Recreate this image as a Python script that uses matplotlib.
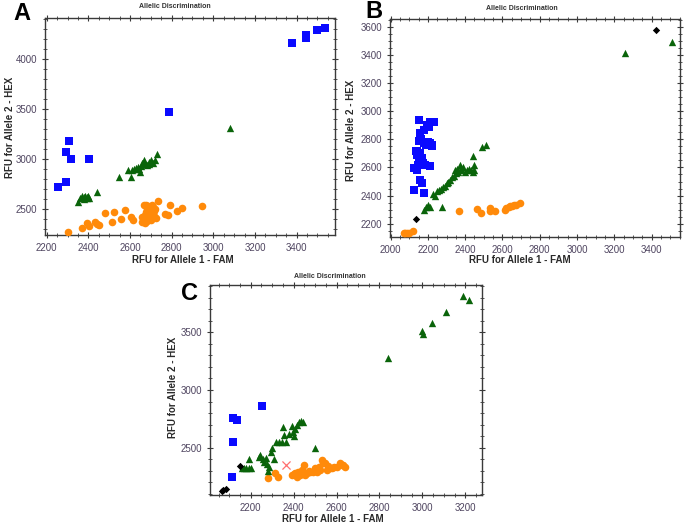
"""Allelic discrimination scatter plots, three panels (A, B, C)."""

import matplotlib
matplotlib.use("Agg")
import matplotlib.pyplot as plt
from matplotlib.ticker import MultipleLocator

plt.rcParams["font.family"] = ["Liberation Sans", "DejaVu Sans"]

BLUE = "#0A0AFF"
GREEN = "#0A640A"
ORANGE = "#FF8A0A"
BLACK = "#000000"
RED = "#FF6F6F"
TICK_TEXT = "#4f4560"
SPINE = "#3a3a3a"

# ---- Panel A ----
a_blue_x = [2256, 2291, 2291, 2307, 2317, 2405, 2789, 3379, 3443, 3443, 3496, 3535]
a_blue_y = [2713, 2770, 3067, 3180, 3000, 3000, 3467, 4155, 4210, 4243, 4287, 4307]

a_green_x = [2350, 2360, 2370, 2378, 2385, 2392, 2398, 2405, 2380, 2395, 2440,
             2547, 2589, 2603, 2610, 2620, 2630, 2640, 2645, 2655, 2660, 2665,
             2670, 2680, 2690, 2700, 2710, 2720, 2730, 2650, 2690, 2700, 3078]
a_green_y = [2570, 2610, 2625, 2620, 2630, 2615, 2625, 2610, 2600, 2605, 2670,
             2820, 2887, 2820, 2890, 2900, 2910, 2920, 2900, 2930, 2960, 2985,
             2950, 2940, 2970, 2990, 2960, 2990, 3050, 2870, 2950, 2970, 3305]

a_orange_x = [2304, 2368, 2392, 2405, 2432, 2440, 2453, 2480, 2512, 2525, 2576,
              2557, 2605, 2616, 2656, 2675, 2733, 2768, 2784, 2792, 2824, 2848,
              2944, 2660, 2670, 2675, 2680, 2685, 2690, 2695, 2700, 2705, 2710,
              2715, 2720, 2725, 2680, 2670, 2700, 2690, 2710, 2665, 2700, 2715]
a_orange_y = [2263, 2303, 2360, 2327, 2370, 2343, 2333, 2453, 2370, 2463, 2487,
              2393, 2420, 2387, 2363, 2537, 2577, 2447, 2440, 2533, 2480, 2503,
              2530, 2420, 2440, 2470, 2500, 2530, 2480, 2450, 2510, 2540, 2470,
              2430, 2500, 2410, 2380, 2360, 2390, 2420, 2520, 2540, 2460, 2480]

# ---- Panel B ----
b_blue_x = [2151, 2214, 2232, 2196, 2178, 2160, 2151, 2178, 2214, 2223, 2134,
            2143, 2170, 2125, 2143, 2187, 2214, 2160, 2170, 2125, 2178, 2140,
            2160, 2150, 2165, 2190, 2200, 2145, 2175, 2205, 2222]
b_blue_y = [2940, 2921, 2921, 2905, 2869, 2846, 2786, 2774, 2774, 2762, 2715,
            2691, 2668, 2596, 2584, 2620, 2608, 2513, 2490, 2442, 2418, 2720,
            2700, 2650, 2800, 2760, 2780, 2620, 2630, 2890, 2750]

b_green_x = [2180, 2190, 2200, 2210, 2275, 2230, 2240, 2250, 2260, 2270, 2280,
             2290, 2300, 2310, 2320, 2330, 2340, 2350, 2360, 2370, 2380, 2390,
             2345, 2355, 2375, 2400, 2410, 2420, 2430, 2440, 2450, 2440, 2450,
             2490, 2510, 3255, 3510]
b_green_y = [2300, 2320, 2330, 2320, 2320, 2410, 2400, 2430, 2440, 2450, 2460,
             2470, 2490, 2500, 2510, 2530, 2540, 2560, 2570, 2580, 2590, 2600,
             2580, 2590, 2620, 2570, 2580, 2590, 2580, 2570, 2580, 2680, 2620,
             2745, 2760, 3415, 3495]

b_orange_x = [2070, 2080, 2090, 2100, 2120, 2366, 2464, 2487, 2532, 2535, 2562,
              2612, 2633, 2651, 2674, 2696, 2620, 2640, 2660]
b_orange_y = [2130, 2130, 2135, 2135, 2150, 2288, 2304, 2276, 2311, 2293, 2293,
              2300, 2319, 2328, 2335, 2347, 2310, 2325, 2330]

b_black_x = [2134, 3425]
b_black_y = [2233, 3580]

# ---- Panel C ----
c_blue_x = [2119, 2137, 2116, 2251, 2111]
c_blue_y = [2755, 2740, 2552, 2861, 2248]

c_green_x = [2160, 2170, 2180, 2190, 2200, 2190, 2240, 2245, 2255, 2260, 2270,
             2275, 2280, 2285, 2295, 2300, 2310, 2320, 2330, 2345, 2350, 2355,
             2365, 2380, 2390, 2395, 2400, 2405, 2415, 2425, 2435, 2445, 2500,
             2842, 2998, 3005, 3044, 3111, 3189, 3216]
c_green_y = [2320, 2320, 2320, 2320, 2320, 2400, 2420, 2440, 2400, 2380, 2410,
             2360, 2300, 2330, 2460, 2500, 2400, 2550, 2550, 2550, 2680, 2610,
             2550, 2620, 2690, 2640, 2600, 2660, 2700, 2720, 2730, 2720, 2494,
             3275, 3512, 3486, 3584, 3679, 3815, 3780]

c_orange_x = [2282, 2313, 2329, 2391, 2407, 2422, 2430, 2438, 2446, 2461, 2477,
              2500, 2508, 2523, 2531, 2547, 2554, 2570, 2586, 2617, 2632, 2640,
              2400, 2415, 2440, 2455, 2470, 2490, 2510, 2520, 2535, 2560, 2580,
              2600, 2625]
c_orange_y = [2234, 2278, 2249, 2263, 2278, 2292, 2263, 2306, 2350, 2278, 2292,
              2321, 2292, 2306, 2393, 2365, 2306, 2321, 2336, 2365, 2350, 2336,
              2270, 2250, 2280, 2260, 2300, 2290, 2310, 2330, 2370, 2340, 2320,
              2330, 2350]

c_black_x = [2065, 2072, 2085, 2150]
c_black_y = [2128, 2133, 2138, 2341]

c_red_x = [2365]
c_red_y = [2350]

W, H = 685, 529


def px_axes(fig, left, top, right, bottom):
    return fig.add_axes([left / W, 1 - bottom / H, (right - left) / W, (bottom - top) / H])


def style(ax, xlim, ylim, xmaj, xmin, ymaj, ymin):
    ax.set_xlim(*xlim)
    ax.set_ylim(*ylim)
    ax.xaxis.set_major_locator(MultipleLocator(xmaj))
    ax.xaxis.set_minor_locator(MultipleLocator(xmin))
    ax.yaxis.set_major_locator(MultipleLocator(ymaj))
    ax.yaxis.set_minor_locator(MultipleLocator(ymin))
    for s in ax.spines.values():
        s.set_color(SPINE)
        s.set_linewidth(1.0)
    ax.tick_params(which="both", direction="inout", top=True, right=True,
                   color=SPINE, labelsize=7, labelcolor=TICK_TEXT, pad=3)
    ax.tick_params(which="major", length=5, width=0.8)
    ax.tick_params(which="minor", length=3, width=0.6)


def draw(ax, pts):
    for x, y, marker, color, size in pts:
        ax.scatter(x, y, marker=marker, c=color, s=size, linewidths=0, zorder=3)


fig = plt.figure(figsize=(W / 100, H / 100), dpi=100)

# A
axA = px_axes(fig, 45, 18, 335, 235)
draw(axA, [(a_orange_x, a_orange_y, "o", ORANGE, 30),
           (a_green_x, a_green_y, "^", GREEN, 28),
           (a_blue_x, a_blue_y, "s", BLUE, 34)])
style(axA, (2192, 3584), (2237, 4410), 200, 50, 500, 100)

# B
axB = px_axes(fig, 390, 19, 680, 237)
draw(axB, [(b_orange_x, b_orange_y, "o", ORANGE, 30),
           (b_green_x, b_green_y, "^", GREEN, 28),
           (b_blue_x, b_blue_y, "s", BLUE, 34),
           (b_black_x, b_black_y, "D", BLACK, 14)])
style(axB, (1997, 3552), (2105, 3657), 200, 50, 200, 50)

# C
axC = px_axes(fig, 210, 285, 482, 495)
draw(axC, [(c_orange_x, c_orange_y, "o", ORANGE, 30),
           (c_green_x, c_green_y, "^", GREEN, 28),
           (c_blue_x, c_blue_y, "s", BLUE, 34),
           (c_black_x, c_black_y, "D", BLACK, 14)])
axC.scatter(c_red_x, c_red_y, marker="x", c=RED, s=34, linewidths=0.9, zorder=3)
style(axC, (2010, 3278), (2090, 3910), 200, 50, 500, 100)


def ftext(x, y, s, **kw):
    fig.text(x / W, 1 - y / H, s, ha="center", va="center", **kw)


for (tx, ty), (xx, xy), (yx, yy), (lx, ly, letter) in [
    ((175, 7), (183, 260), (10, 127), (22, 14, "A")),
    ((522, 9), (520, 260), (351, 130), (374, 12, "B")),
    ((330, 276), (333, 519), (173, 387), (189, 294, "C")),
]:
    ftext(tx, ty, "Allelic Discrimination", fontsize=5, fontweight="bold", color="#333333")
    ftext(xx, xy, "RFU for Allele 1 - FAM", fontsize=7, fontweight="bold", color="#2a2a2a")
    ftext(yx, yy, "RFU for Allele 2 - HEX", fontsize=7, fontweight="bold", color="#2a2a2a",
          rotation=90)
    ftext(lx, ly, letter, fontsize=17, fontweight="bold", color="black")

fig.savefig("out.png", dpi=100)
